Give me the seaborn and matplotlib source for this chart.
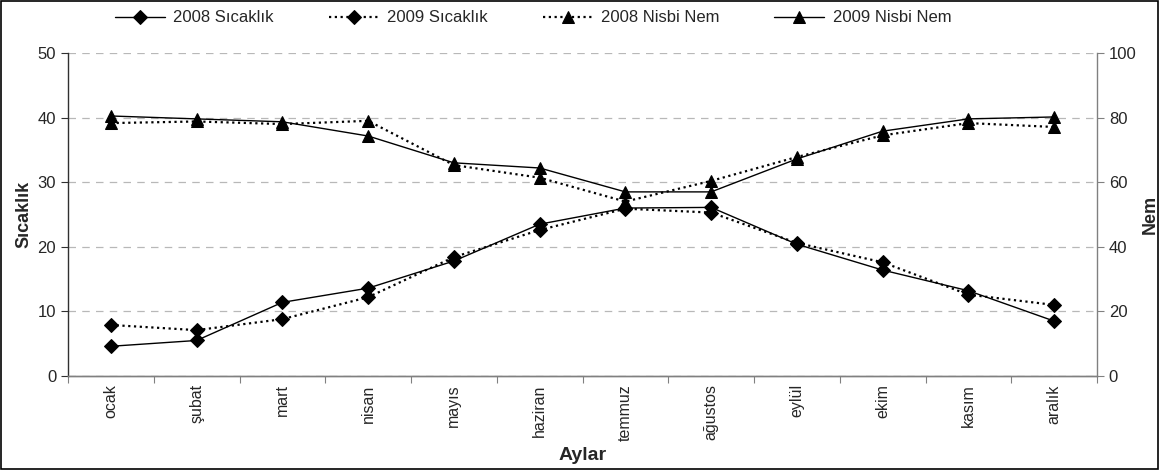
import matplotlib
matplotlib.use("Agg")
import matplotlib.pyplot as plt
import seaborn as sns
import pandas as pd
from matplotlib.patches import Rectangle
from matplotlib.ticker import MultipleLocator, FixedLocator

months = ["ocak", "şubat", "mart", "nisan", "mayıs", "haziran",
          "temmuz", "ağustos", "eylül", "ekim", "kasım", "aralık"]
temp_2008 = [4.6, 5.5, 11.4, 13.6, 17.8, 23.5, 26.0, 26.1, 20.4, 16.4, 13.2, 8.5]
temp_2009 = [7.9, 7.1, 8.8, 12.2, 18.4, 22.6, 25.9, 25.3, 20.6, 17.6, 12.6, 11.0]
hum_2008 = [78.3, 78.8, 78.0, 79.0, 65.3, 61.4, 54.0, 60.4, 67.8, 74.5, 78.3, 77.1]
hum_2009 = [80.5, 79.6, 78.7, 74.3, 66.0, 64.4, 57.0, 57.0, 67.2, 75.8, 79.6, 80.2]

sns.set_theme(style="white")
plt.rcParams["font.family"] = ["Liberation Sans", "DejaVu Sans"]

df = pd.DataFrame({"ay": list(range(len(months))),
                   "t08": temp_2008, "t09": temp_2009,
                   "h08": hum_2008, "h09": hum_2009})

fig = plt.figure(figsize=(11.6, 4.7), dpi=100)
ax = fig.add_axes([68/1160, 1-376/470, (1097-68)/1160, (376-53)/470])
ax2 = ax.twinx()

dot = (0, (1, 1.6))
sns.lineplot(data=df, x="ay", y="t08", ax=ax, color="black", lw=1.0,
             marker="D", markersize=7, markeredgecolor="black", label="2008 Sıcaklık", legend=False)
sns.lineplot(data=df, x="ay", y="t09", ax=ax, color="black", lw=1.6, linestyle=dot,
             marker="D", markersize=7, markeredgecolor="black", label="2009 Sıcaklık", legend=False)
sns.lineplot(data=df, x="ay", y="h08", ax=ax2, color="black", lw=1.6, linestyle=dot,
             marker="^", markersize=9, markeredgecolor="black", label="2008 Nisbi Nem", legend=False)
sns.lineplot(data=df, x="ay", y="h09", ax=ax2, color="black", lw=1.0,
             marker="^", markersize=9, markeredgecolor="black", label="2009 Nisbi Nem", legend=False)

ax.set_xlim(-0.5, len(months) - 0.5)
ax.set_ylim(0, 50)
ax2.set_ylim(0, 100)
ax.yaxis.set_major_locator(MultipleLocator(10))
ax2.yaxis.set_major_locator(MultipleLocator(20))

ax.set_xticks(range(len(months)))
ax.set_xticklabels(months, rotation=90, fontsize=11.5)
ax.xaxis.set_minor_locator(FixedLocator([i - 0.5 for i in range(len(months) + 1)]))
ax.tick_params(axis="x", which="major", length=0, pad=6)
ax.tick_params(axis="x", which="minor", length=5, width=0.8, color="#808080", direction="out", bottom=True)
ax.tick_params(axis="y", length=5, width=0.8, color="#303030", direction="out", left=True, labelsize=12)
ax2.tick_params(axis="y", length=5, width=0.8, color="#808080", direction="out", right=True, labelsize=12)

ax.yaxis.grid(True, linestyle=(0, (6, 5)), color="#b8b8b8", lw=0.9)
ax.set_axisbelow(True)

for a in (ax, ax2):
    a.spines["top"].set_visible(False)
    for s in ("left", "right", "bottom"):
        a.spines[s].set_color("#808080")
        a.spines[s].set_linewidth(1.0)
ax.spines["right"].set_visible(False)
ax2.spines["left"].set_visible(False)
ax.spines["left"].set_color("#303030")

ax.set_xlabel("Aylar", fontsize=14, fontweight="bold", labelpad=4)
ax.set_ylabel("Sıcaklık", fontsize=13, fontweight="bold", labelpad=4)
ax2.set_ylabel("Nem", fontsize=13, fontweight="bold", labelpad=4)

h1, l1 = ax.get_legend_handles_labels()
h2, l2 = ax2.get_legend_handles_labels()
fig.legend(h1 + h2, l1 + l2, loc="center", bbox_to_anchor=(533/1160, 1-18/470),
           ncol=4, frameon=False, fontsize=12, handlelength=3.0, columnspacing=3.3,
           handletextpad=0.5)

fig.patches.append(Rectangle((0.001, 0.002), 0.997, 0.996, transform=fig.transFigure,
                             fill=False, edgecolor="black", lw=1.2))

fig.savefig("out.png", dpi=100)
